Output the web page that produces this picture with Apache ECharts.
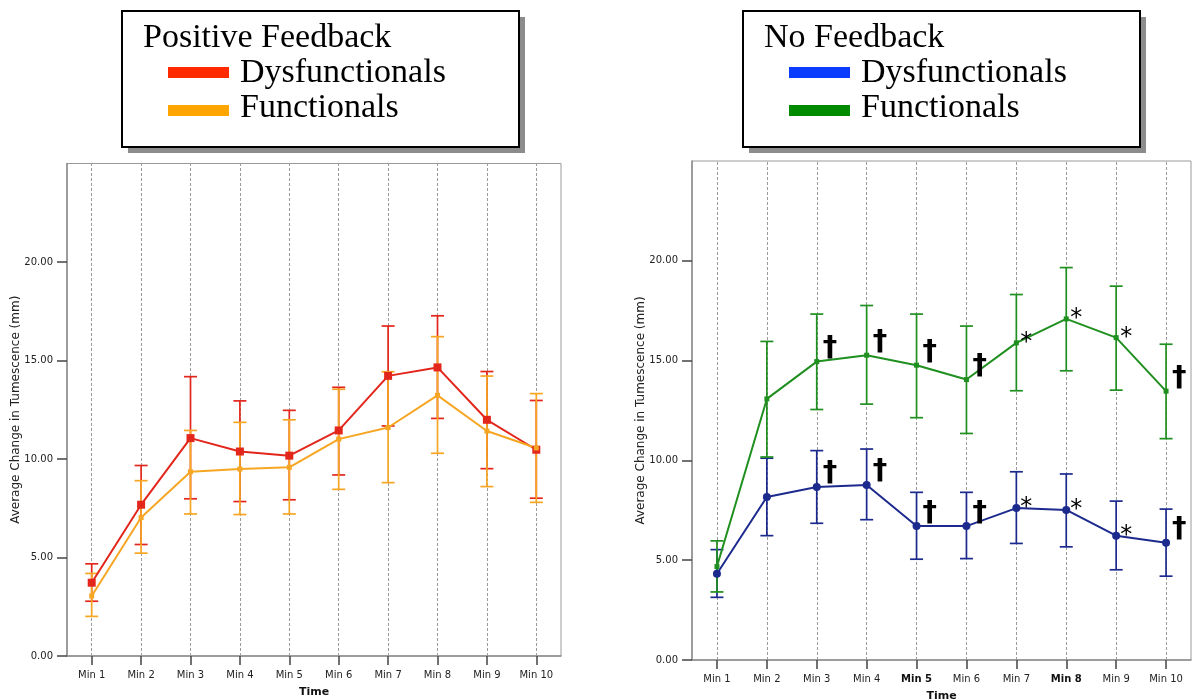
<!DOCTYPE html>
<html><head><meta charset="utf-8">
<script src="https://cdn.jsdelivr.net/npm/echarts@6/dist/echarts.min.js"></script>
<style>html,body{margin:0;padding:0;background:#fff}#c{width:1193px;height:700px}</style>
</head><body><div id="c"></div>
<script>
// ---------- data ----------
const categories = ['Min 1','Min 2','Min 3','Min 4','Min 5','Min 6','Min 7','Min 8','Min 9','Min 10'];
const yTicks = [0, 5, 10, 15, 20];
const boldCategoriesRight = ['Min 5', 'Min 8'];
const seriesNames = ['Dysfunctionals', 'Functionals'];
const groupTitles = ['Positive Feedback', 'No Feedback'];
const yAxisTitle = 'Average Change in Tumescence (mm)';
const xAxisTitle = 'Time';

// Positive feedback
const posDysMean = [3.72, 7.68, 11.06, 10.38, 10.17, 11.45, 14.22, 14.65, 11.99, 10.47];
const posDysLow  = [2.78, 5.66, 7.98, 7.84, 7.93, 9.19, 11.68, 12.06, 9.51, 8.01];
const posDysHigh = [4.68, 9.67, 14.18, 12.95, 12.47, 13.64, 16.75, 17.27, 14.44, 12.97];
const posFunMean = [3.05, 7.03, 9.35, 9.49, 9.58, 11.01, 11.60, 13.23, 11.42, 10.56];
const posFunLow  = [2.01, 5.22, 7.21, 7.18, 7.21, 8.46, 8.80, 10.29, 8.60, 7.80];
const posFunHigh = [4.19, 8.90, 11.45, 11.86, 11.99, 13.54, 14.43, 16.21, 14.21, 13.32];

// No feedback
const noDysMean = [4.32, 8.17, 8.67, 8.77, 6.71, 6.71, 7.61, 7.52, 6.23, 5.88];
const noDysLow  = [3.14, 6.23, 6.85, 7.03, 5.05, 5.08, 5.84, 5.67, 4.52, 4.20];
const noDysHigh = [5.53, 10.11, 10.49, 10.57, 8.40, 8.40, 9.43, 9.32, 7.96, 7.56];
const noFunMean = [4.68, 13.08, 14.95, 15.27, 14.77, 14.05, 15.89, 17.09, 16.15, 13.47];
const noFunLow  = [3.41, 10.17, 12.55, 12.82, 12.14, 11.35, 13.49, 14.49, 13.52, 11.09];
const noFunHigh = [5.97, 15.96, 17.33, 17.76, 17.33, 16.73, 18.31, 19.66, 18.73, 15.82];
const noDysMarks = ['', '', '†', '†', '†', '†', '*', '*', '*', '†'];
const noFunMarks = ['', '', '†', '†', '†', '†', '*', '*', '*', '†'];

// ---------- styling ----------
const C = {
  posDys: '#e3261b', posFun: '#f6a623', noDys: '#1c2a8e', noFun: '#1f8f1f',
  legPosDys: '#ff2a00', legPosFun: '#ffa500', legNoDys: '#0a3cff', legNoFun: '#008a00'
};
const tickFont = 'DejaVu Sans';

function errorBars(name, gridIdx, low, high, color) {
  return {
    type: 'custom', name: name, xAxisIndex: gridIdx, yAxisIndex: gridIdx, z: 2,
    silent: true,
    data: low.map((l, i) => [i, l, high[i]]),
    encode: { x: 0, y: [1, 2] },
    renderItem: function (params, api) {
      const lo = api.coord([api.value(0), api.value(1)]);
      const hi = api.coord([api.value(0), api.value(2)]);
      const w = 6.5;
      const st = { stroke: color, lineWidth: 1.7 };
      return { type: 'group', children: [
        { type: 'line', shape: { x1: lo[0], y1: lo[1], x2: hi[0], y2: hi[1] }, style: st },
        { type: 'line', shape: { x1: lo[0] - w, y1: lo[1], x2: lo[0] + w, y2: lo[1] }, style: st },
        { type: 'line', shape: { x1: hi[0] - w, y1: hi[1], x2: hi[0] + w, y2: hi[1] }, style: st }
      ]};
    }
  };
}

function markedData(mean, marks, symSize) {
  return mean.map((v, i) => {
    const m = marks ? marks[i] : '';
    if (!m) return { value: v };
    const isDagger = m === '†';
    return {
      value: v,
      label: {
        show: true, formatter: m, position: 'right', distance: 0,
        offset: isDagger ? [6 - symSize / 2, -13] : [4 - symSize / 2, 0],
        fontFamily: 'DejaVu Sans', fontWeight: isDagger ? 'bold' : 'normal',
        fontSize: isDagger ? 29 : 24, color: '#000'
      }
    };
  });
}

function lineSeries(name, gridIdx, mean, color, symbol, symSize, marks, withGrid) {
  const s = {
    type: 'line', name: name, xAxisIndex: gridIdx, yAxisIndex: gridIdx, z: 3,
    data: markedData(mean, marks, symSize),
    symbol: symbol, symbolSize: symSize, showAllSymbol: true,
    lineStyle: { color: color, width: 2 },
    itemStyle: { color: color },
    label: { show: false }
  };
  if (withGrid) {
    s.markLine = {
      silent: true, symbol: 'none', z: 1, animation: false,
      label: { show: false },
      lineStyle: { color: '#9a9a9a', type: [3, 2], width: 1 },
      data: categories.map(c => ({ xAxis: c }))
    };
  }
  return s;
}

function xAxisCfg(gridIdx, boldList) {
  return {
    type: 'category', gridIndex: gridIdx, data: categories, boundaryGap: true,
    name: xAxisTitle, nameLocation: 'middle', nameGap: 31,
    nameTextStyle: { fontFamily: tickFont, fontWeight: 'bold', fontSize: 11, color: '#111' },
    axisLine: { show: true, lineStyle: { color: '#8c8c8c', width: 1.5 } },
    axisTick: { show: true, alignWithLabel: true, length: 9, lineStyle: { color: '#444', width: 1.5 } },
    axisLabel: {
      margin: 14, interval: 0, fontFamily: tickFont, fontSize: 10, color: '#222',
      formatter: v => (boldList.includes(v) ? '{b|' + v + '}' : v),
      rich: { b: { fontFamily: tickFont, fontSize: 10, fontWeight: 'bold', color: '#111' } }
    },
    splitLine: { show: false }
  };
}

function yAxisCfg(gridIdx, gap) {
  return {
    type: 'value', gridIndex: gridIdx, min: 0, max: 25, interval: 5,
    name: yAxisTitle, nameLocation: 'middle', nameGap: gap, nameRotate: 90, nameMoveOverlap: false,
    nameTextStyle: { fontFamily: tickFont, fontSize: 12, color: '#222' },
    axisLine: { show: true, lineStyle: { color: '#8c8c8c', width: 1.5 } },
    axisTick: { show: true, length: 10, customValues: yTicks, lineStyle: { color: '#444', width: 1.5 } },
    axisLabel: {
      margin: 14, fontFamily: tickFont, fontSize: 10, color: '#222', customValues: yTicks,
      formatter: v => (yTicks.includes(v) ? v.toFixed(2) : '')
    },
    splitLine: { show: false }
  };
}

function legendBox(x, title, names, colors) {
  const els = [
    { type: 'rect', shape: { x: x + 6, y: 17, width: 397, height: 136 }, style: { fill: '#8c8c8c' } },
    { type: 'rect', shape: { x: x, y: 11, width: 397, height: 136 }, style: { fill: '#fff', stroke: '#000', lineWidth: 2 } },
    { type: 'text', x: x + 21, y: 38, style: { text: title, fontFamily: 'Liberation Serif', fontSize: 34, fill: '#000', verticalAlign: 'middle' } }
  ];
  names.forEach((n, i) => {
    els.push({ type: 'rect', shape: { x: x + 46, y: 67 + i * 38, width: 61, height: 11 }, style: { fill: colors[i] } });
    els.push({ type: 'text', x: x + 118, y: 73 + i * 35, style: { text: n, fontFamily: 'Liberation Serif', fontSize: 34, fill: '#000', verticalAlign: 'middle' } });
  });
  return els;
}

const option = {
  animation: false,
  backgroundColor: '#fff',
  grid: [
    { left: 67, top: 163.5, width: 494, height: 492.5, show: true, borderColor: '#9a9a9a', borderWidth: 1,
      backgroundColor: '#fff', containLabel: false, outerBoundsMode: 'none' },
    { left: 692, top: 161, width: 499, height: 499, show: true, borderColor: '#9a9a9a', borderWidth: 1,
      backgroundColor: '#fff', containLabel: false, outerBoundsMode: 'none' }
  ],
  xAxis: [xAxisCfg(0, []), xAxisCfg(1, boldCategoriesRight)],
  yAxis: [yAxisCfg(0, 45), yAxisCfg(1, 45)],
  graphic: [
    ...legendBox(122, groupTitles[0], seriesNames, [C.legPosDys, C.legPosFun]),
    ...legendBox(743, groupTitles[1], seriesNames, [C.legNoDys, C.legNoFun])
  ],
  series: [
    errorBars(seriesNames[0], 0, posDysLow, posDysHigh, C.posDys),
    errorBars(seriesNames[1], 0, posFunLow, posFunHigh, C.posFun),
    lineSeries(seriesNames[0], 0, posDysMean, C.posDys, 'rect', 8, null, true),
    lineSeries(seriesNames[1], 0, posFunMean, C.posFun, 'rect', 5, null, false),
    errorBars(seriesNames[0], 1, noDysLow, noDysHigh, C.noDys),
    errorBars(seriesNames[1], 1, noFunLow, noFunHigh, C.noFun),
    lineSeries(seriesNames[1], 1, noFunMean, C.noFun, 'rect', 5, noFunMarks, true),
    lineSeries(seriesNames[0], 1, noDysMean, C.noDys, 'circle', 8, noDysMarks, false)
  ]
};
const chart = echarts.init(document.getElementById('c'));
chart.setOption(option);
</script>
</body></html>
